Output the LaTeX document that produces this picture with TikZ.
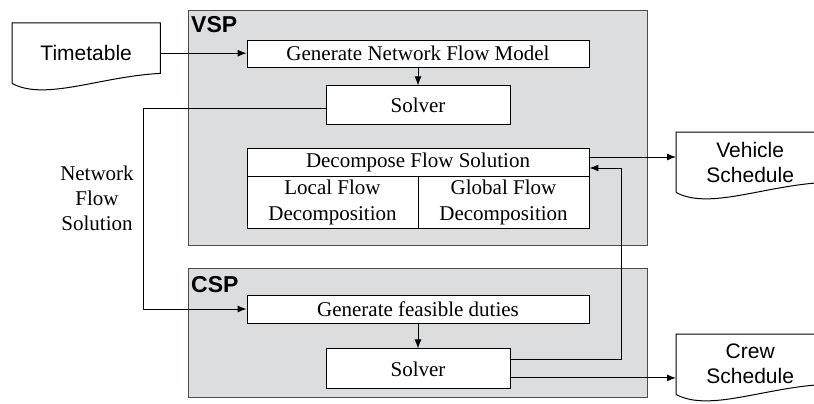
\documentclass[tikz,border=0pt]{standalone}
\usepackage{fontspec}
\setmainfont{Liberation Serif}
\setsansfont{Liberation Sans}
\usetikzlibrary{calc, positioning, arrows.meta}
\definecolor{panelgray}{RGB}{220,221,223}

\begin{document}
\begin{tikzpicture}[x=1pt, y=-1pt,
		panel/.style={draw=black!70, fill=panelgray, line width=1.4pt, inner sep=0pt, anchor=north west},
		tag/.style={anchor=base west, inner sep=0pt, font=\sffamily\bfseries\fontsize{23}{23}\selectfont},
		box/.style={draw, fill=white, line width=0.9pt, inner sep=0pt, align=center, font=\fontsize{21}{26}\selectfont},
		doc/.style={inner sep=0pt, minimum width=148, minimum height=60, anchor=north west, align=center, font=\sffamily\fontsize{21}{25}\selectfont},
		conn/.style={line width=1pt, -{Latex[length=9pt, width=7pt]}}
	]
		\useasboundingbox (0,0) rectangle (814,404);
		\clip (0,0) rectangle (814,404);

		% the two panels
		\node[panel, minimum width=459, minimum height=235] (vsp) at (188,10) {};
		\node[panel, minimum width=459, minimum height=129] (csp) at (188,268) {};
		\node[tag] (vsptag) at ($(vsp.north west)+(3,23)$) {VSP};
		\node[tag] (csptag) at ($(csp.north west)+(3,24)$) {CSP};

		% VSP boxes
		\node[box, minimum width=342, minimum height=27] (gnfm) at (418,53.5) {Generate Network Flow Model};
		\node[box, minimum width=184, minimum height=39, below=18pt of gnfm] (solverA) {Solver};
		\node[box, minimum width=342, minimum height=28] (decomp) at (418,162) {Decompose Flow Solution};
		\node[box, minimum width=171, minimum height=52, anchor=north west] (local) at (decomp.south west) {Local Flow\\Decomposition};
		\node[box, minimum width=171, minimum height=52, anchor=north east] (global) at (decomp.south east) {Global Flow\\Decomposition};

		% CSP boxes
		\node[box, minimum width=342, minimum height=28] (gfd) at (418,309) {Generate feasible duties};
		\node[box, minimum width=184, minimum height=40, below=25pt of gfd] (solverB) {Solver};

		% documents
		\node[doc] (tt) at (12,23) {Timetable};
		\node[doc] (vs) at (676,132) {Vehicle\\Schedule};
		\node[doc] (cs) at (676,334) {Crew\\Schedule};
		\foreach \d in {tt, vs, cs}
			\draw[line width=1pt] (\d.south west) -- (\d.north west) -- (\d.north east) -- ($(\d.south east)+(0,-10)$)
				.. controls ($(\d.south east)+(-60,-7)$) and ($(\d.south west)+(33,18)$) .. (\d.south west);

		\node[align=center, font=\fontsize{21}{25}\selectfont] (nfslabel) at (97,198) {Network\\Flow\\Solution};

		% connectors
		\coordinate (nfs) at (143,0);
		\coordinate (ret) at (621,0);
		\draw[conn] (tt.east) -- (tt.east -| gnfm.west);
		\draw[conn] (gnfm) -- (solverA);
		\draw[conn] ($(solverA.west)+(0,3)$) coordinate (sa) -- (sa -| nfs) |- (gfd.west);
		\draw[conn] (gfd) -- (solverB);
		\draw[conn] ($(decomp.east)+(0,-5)$) coordinate (dout) -- (dout -| vs.west);
		\draw[conn] ($(solverB.east)+(0,-9)$) coordinate (sbup) -- (sbup -| ret) -- ($(decomp.east -| ret)+(0,6)$) -- ($(decomp.east)+(0,6)$);
		\draw[conn] ($(solverB.east)+(0,9)$) coordinate (sbout) -- (sbout -| cs.west);
	\end{tikzpicture}
\end{document}
